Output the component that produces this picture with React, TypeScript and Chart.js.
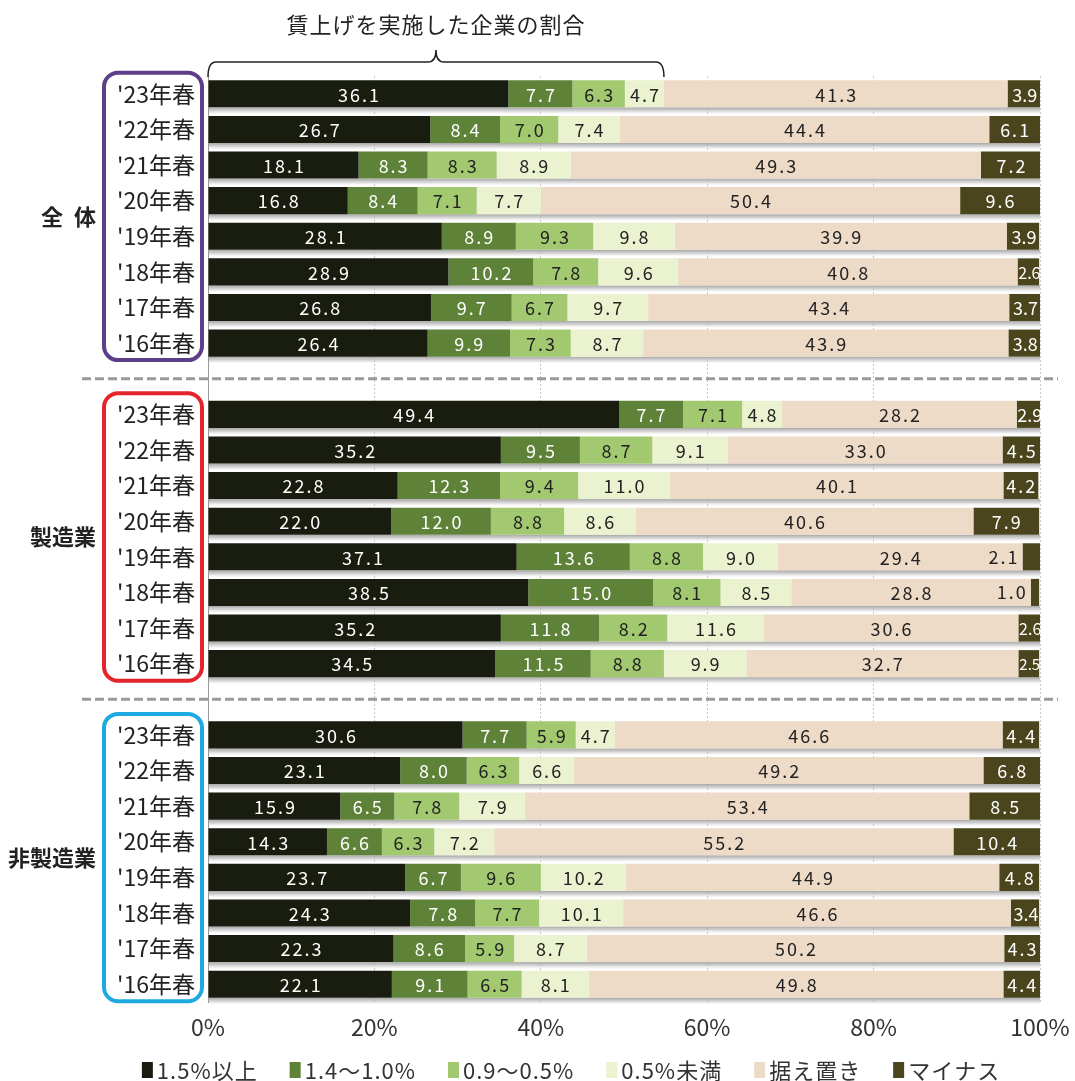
import { useEffect, useRef } from "react";
import { Chart, registerables } from "chart.js";

Chart.register(...registerables);

// Survey years shown within each group (newest first)
const years = ["'23年春", "'22年春", "'21年春", "'20年春", "'19年春", "'18年春", "'17年春", "'16年春"];
const groupNames = ["全\u2002体", "製造業", "非製造業"];
const groupFrameColors = ["#5c3f88", "#e3242b", "#1ea9e1"];

const seriesNames = ["1.5%以上", "1.4〜1.0%", "0.9〜0.5%", "0.5%未満", "据え置き", "マイナス"];
const seriesColors = ["#191d0f", "#5e8238", "#a2c96f", "#eaf2cf", "#eddac7", "#4a451c"];
const seriesTextColors = ["#ffffff", "#ffffff", "#222222", "#222222", "#222222", "#ffffff"];

// Values per series: 全体 (8 years), 製造業 (8 years), 非製造業 (8 years)
const over15 = [
  36.1, 26.7, 18.1, 16.8, 28.1, 28.9, 26.8, 26.4,
  49.4, 35.2, 22.8, 22.0, 37.1, 38.5, 35.2, 34.5,
  30.6, 23.1, 15.9, 14.3, 23.7, 24.3, 22.3, 22.1,
];
const from10to14 = [
  7.7, 8.4, 8.3, 8.4, 8.9, 10.2, 9.7, 9.9,
  7.7, 9.5, 12.3, 12.0, 13.6, 15.0, 11.8, 11.5,
  7.7, 8.0, 6.5, 6.6, 6.7, 7.8, 8.6, 9.1,
];
const from05to09 = [
  6.3, 7.0, 8.3, 7.1, 9.3, 7.8, 6.7, 7.3,
  7.1, 8.7, 9.4, 8.8, 8.8, 8.1, 8.2, 8.8,
  5.9, 6.3, 7.8, 6.3, 9.6, 7.7, 5.9, 6.5,
];
const under05 = [
  4.7, 7.4, 8.9, 7.7, 9.8, 9.6, 9.7, 8.7,
  4.8, 9.1, 11.0, 8.6, 9.0, 8.5, 11.6, 9.9,
  4.7, 6.6, 7.9, 7.2, 10.2, 10.1, 8.7, 8.1,
];
const unchanged = [
  41.3, 44.4, 49.3, 50.4, 39.9, 40.8, 43.4, 43.9,
  28.2, 33.0, 40.1, 40.6, 29.4, 28.8, 30.6, 32.7,
  46.6, 49.2, 53.4, 55.2, 44.9, 46.6, 50.2, 49.8,
];
const decrease = [
  3.9, 6.1, 7.2, 9.6, 3.9, 2.6, 3.7, 3.8,
  2.9, 4.5, 4.2, 7.9, 2.1, 1.0, 2.6, 2.5,
  4.4, 6.8, 8.5, 10.4, 4.8, 3.4, 4.3, 4.4,
];

const xTicks = [0, 20, 40, 60, 80, 100];
const braceTitle = "賃上げを実施した企業の割合";

const FONT = "'Noto Sans CJK JP', 'Noto Sans', sans-serif";

// Category rows: each group of years followed by an empty spacer row
const rowLabels: string[] = [];
const rowIndex: (number | null)[] = [];
groupNames.forEach((_, g) => {
  years.forEach((y, k) => {
    rowLabels.push(y);
    rowIndex.push(g * years.length + k);
  });
  if (g < groupNames.length - 1) {
    rowLabels.push("");
    rowIndex.push(null);
  }
});

const seriesValues = [over15, from10to14, from05to09, under05, unchanged, decrease];

const spread = (vals: number[]) => rowIndex.map((i) => (i == null ? null : vals[i]));

const decorations = {
  id: "decorations",
  beforeDatasetsDraw(chart: any) {
    const { ctx, chartArea } = chart;
    const last = chart.getDatasetMeta(chart.data.datasets.length - 1);
    ctx.save();
    last.data.forEach((bar: any, i: number) => {
      if (rowIndex[i] == null) return;
      const { y, height } = bar.getProps(["y", "height"], true);
      const top = y + height / 2;
      const g = ctx.createLinearGradient(0, top, 0, top + 7);
      g.addColorStop(0, "rgba(150,150,150,0.85)");
      g.addColorStop(0.5, "rgba(185,185,185,0.6)");
      g.addColorStop(1, "rgba(225,225,225,0)");
      ctx.fillStyle = g;
      ctx.fillRect(chartArea.left + 1, top, chartArea.right - chartArea.left - 1, 7);
    });
    ctx.restore();
  },
  afterDatasetsDraw(chart: any) {
    const { ctx } = chart;
    ctx.save();
    ctx.textBaseline = "middle";
    chart.data.datasets.forEach((ds: any, di: number) => {
      const meta = chart.getDatasetMeta(di);
      meta.data.forEach((bar: any, i: number) => {
        const v = ds.data[i];
        if (v == null) return;
        const { x, y, base } = bar.getProps(["x", "y", "base"], true);
        const w = x - base;
        const text = v.toFixed(1);
        let size = 18;
        (ctx as any).letterSpacing = "2px";
        ctx.font = `${size}px ${FONT}`;
        if (di === seriesNames.length - 1 && v < 2.3) {
          ctx.fillStyle = "#222222";
          ctx.textAlign = "right";
          ctx.fillText(text, base - 3, y);
          return;
        }
        if (ctx.measureText(text).width > w - 2) {
          (ctx as any).letterSpacing = "0px";
          while (ctx.measureText(text).width > w + 1 && size > 13) {
            size -= 1;
            ctx.font = `${size}px ${FONT}`;
          }
        }
        ctx.fillStyle = seriesTextColors[di];
        ctx.textAlign = "center";
        ctx.fillText(text, (x + base) / 2 + 1, y + 1);
      });
    });
    ctx.restore();
  },
  afterDraw(chart: any) {
    const { ctx, chartArea, scales } = chart;
    const xs = scales.x;
    const ys = scales.y;
    ctx.save();

    // Group separators
    ctx.strokeStyle = "#9a9a9a";
    ctx.lineWidth = 3;
    ctx.setLineDash([9, 4]);
    rowIndex.forEach((r, i) => {
      if (r != null) return;
      const y = ys.getPixelForValue(i);
      ctx.beginPath();
      ctx.moveTo(82, y);
      ctx.lineTo(chartArea.right + 18, y);
      ctx.stroke();
    });
    ctx.setLineDash([]);

    // Group frames and names
    groupNames.forEach((name, g) => {
      const first = rowIndex.indexOf(g * years.length);
      const lastRow = rowIndex.indexOf(g * years.length + years.length - 1);
      const y0 = ys.getPixelForValue(first) - 21;
      const y1 = ys.getPixelForValue(lastRow) + 17;
      const x0 = chartArea.left - 104;
      const x1 = chartArea.left - 6;
      ctx.strokeStyle = groupFrameColors[g];
      ctx.lineWidth = 4;
      ctx.beginPath();
      ctx.roundRect(x0, y0, x1 - x0, y1 - y0, 14);
      ctx.stroke();

      ctx.fillStyle = "#222222";
      ctx.font = `bold 22px ${FONT}`;
      ctx.textAlign = "right";
      ctx.textBaseline = "middle";
      ctx.fillText(name, x0 - 8, (y0 + y1) / 2);
    });

    // Brace over the share of firms raising wages ('23 全体)
    const raised = over15[0] + from10to14[0] + from05to09[0] + under05[0];
    const bx0 = xs.getPixelForValue(0);
    const bx1 = xs.getPixelForValue(raised);
    const mid = (bx0 + bx1) / 2;
    const yl = 62;
    const r = 8;
    ctx.strokeStyle = "#222222";
    ctx.lineWidth = 1.5;
    ctx.beginPath();
    ctx.moveTo(bx0, yl + 15);
    ctx.quadraticCurveTo(bx0, yl, bx0 + r, yl);
    ctx.lineTo(mid - r, yl);
    ctx.quadraticCurveTo(mid, yl, mid, yl - 12);
    ctx.quadraticCurveTo(mid, yl, mid + r, yl);
    ctx.lineTo(bx1 - r, yl);
    ctx.quadraticCurveTo(bx1, yl, bx1, yl + 15);
    ctx.stroke();

    ctx.fillStyle = "#222222";
    ctx.font = `22px ${FONT}`;
    ctx.textAlign = "center";
    ctx.textBaseline = "middle";
    (ctx as any).letterSpacing = "1px";
    ctx.fillText(braceTitle, mid, 25);

    // Legend
    ctx.font = `22px ${FONT}`;
    (ctx as any).letterSpacing = "1px";
    ctx.textAlign = "left";
    const boxW = 11;
    const boxH = 16;
    const gapAfterBox = 4;
    const itemGap = 32;
    const widths = seriesNames.map((n) => ctx.measureText(n).width);
    const total =
      widths.reduce((a, b) => a + b, 0) +
      seriesNames.length * (boxW + gapAfterBox) +
      (seriesNames.length - 1) * itemGap;
    let lx = 571 - total / 2;
    const ly = 1070;
    seriesNames.forEach((n, i) => {
      ctx.fillStyle = seriesColors[i];
      ctx.fillRect(lx, ly - boxH / 2, boxW, boxH);
      ctx.fillStyle = "#333333";
      ctx.fillText(n, lx + boxW + gapAfterBox, ly + 1);
      lx += boxW + gapAfterBox + widths[i] + itemGap;
    });

    ctx.restore();
  },
};

export default function App() {
  const ref = useRef<HTMLCanvasElement>(null);

  useEffect(() => {
    document.body.style.margin = "0";
    const canvas = ref.current;
    if (!canvas) return;
    const chart = new Chart(canvas, {
      type: "bar",
      data: {
        labels: rowLabels,
        datasets: seriesNames.map((name, i) => ({
          label: name,
          data: spread(seriesValues[i]) as any,
          backgroundColor: seriesColors[i],
          borderWidth: 0,
          barPercentage: 0.76,
          categoryPercentage: 1,
        })),
      },
      options: {
        indexAxis: "y",
        responsive: false,
        animation: false,
        layout: { padding: { left: 0, right: 35, top: 76, bottom: 39 } },
        plugins: {
          legend: { display: false },
          tooltip: { enabled: false },
        },
        scales: {
          x: {
            stacked: true,
            min: 0,
            max: 100,
            afterBuildTicks: (scale: any) => {
              scale.ticks = xTicks.map((v) => ({ value: v }));
            },
            afterFit: (scale: any) => {
              scale.height = 40;
              scale.paddingLeft = 0;
              scale.paddingRight = 0;
            },
            ticks: {
              callback: (v: any) => `${v}%`,
              font: { family: FONT, size: 23 },
              color: "#333333",
              padding: 11,
              maxRotation: 0,
            },
            grid: {
              color: (c: any) => (c.tick && c.tick.value === 0 ? "rgba(0,0,0,0)" : "#c4c4c4"),
              drawTicks: false,
              lineWidth: 1,
            },
            border: { display: false, dash: [2, 2] },
          },
          y: {
            stacked: true,
            afterFit: (scale: any) => {
              scale.width = 208;
              scale.paddingTop = 0;
              scale.paddingBottom = 0;
            },
            ticks: {
              font: { family: FONT, size: 23 },
              color: "#222222",
              padding: 13,
              autoSkip: false,
            },
            grid: { display: false, drawTicks: false },
            border: { display: true, color: "#9a9a9a", width: 1 },
          },
        },
      },
      plugins: [decorations],
    });
    return () => chart.destroy();
  }, []);

  return (
    <div style={{ position: "absolute", left: 0, top: 0, width: 1075, height: 1081 }}>
      <canvas ref={ref} width={1075} height={1081} />
    </div>
  );
}
